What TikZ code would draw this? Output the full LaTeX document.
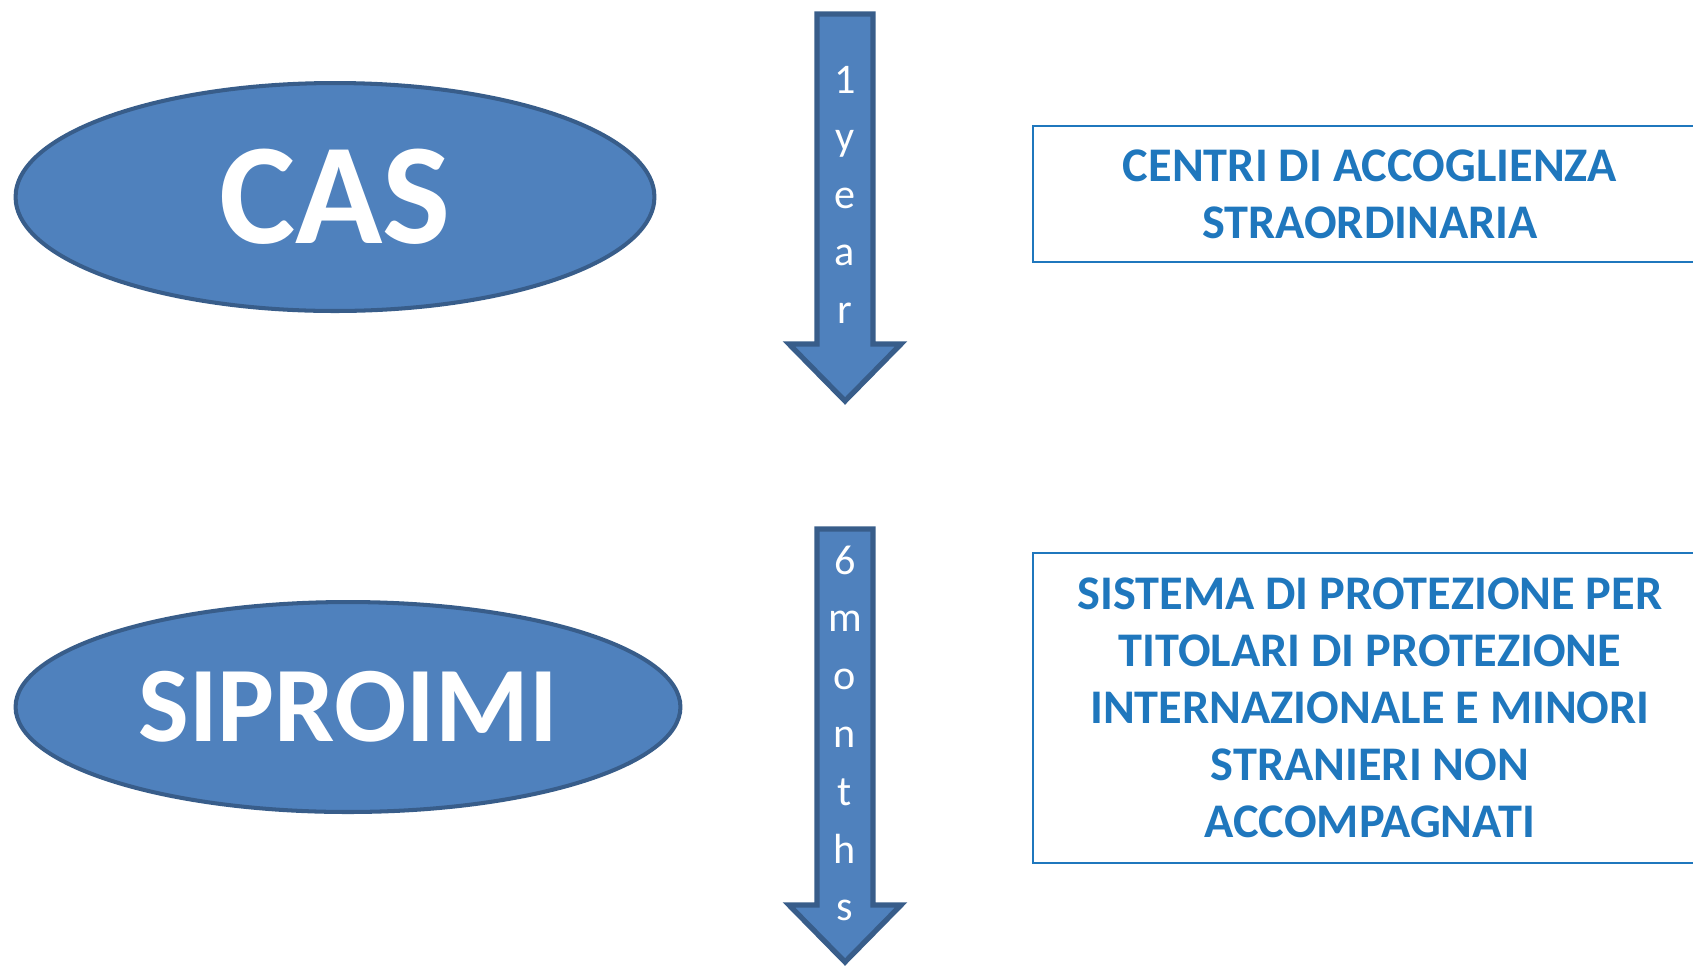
\documentclass[tikz,border=0pt]{standalone}
\usepackage{fontspec}
\setmainfont{Carlito}
\usetikzlibrary{shapes.geometric}

\definecolor{cellfill}{RGB}{79,129,189}
\definecolor{celledge}{RGB}{56,93,138}
\definecolor{boxblue}{RGB}{31,119,189}

\begin{document}
\begin{tikzpicture}[x=0.02cm, y=-0.02cm,
                    oval/.style = {shape = ellipse,
                                   fill = cellfill,
                                   draw = celledge,
                                   line width = 2.3pt,
                                   text = white,
                                   font = \bfseries,
                                   inner sep = 0pt},
                    infobox/.style = {shape = rectangle,
                                      draw = boxblue,
                                      line width = 1.1pt,
                                      text = boxblue,
                                      anchor = west,
                                      minimum width = 13.48cm,
                                      align = center,
                                      font = \fontsize{27.5}{32.5}\selectfont\bfseries},
                    armtext/.style = {text = white,
                                      anchor = base,
                                      inner sep = 0pt,
                                      font = \fontsize{24}{28}\selectfont},
                    timearrow/.style = {fill = cellfill,
                                        draw = celledge,
                                        line width = 3pt,
                                        line join = miter}]
		\useasboundingbox (0,0) rectangle (1693,965);
		% the two centres
		\node[oval, minimum width = 12.78cm, minimum height = 4.56cm,
		      font = \fontsize{82}{90}\selectfont\bfseries] (cas) at (335,197) {CAS};
		\node[oval, minimum width = 13.3cm, minimum height = 4.2cm,
		      font = \fontsize{61}{70}\selectfont\bfseries] (siproimi) at (348,707) {SIPROIMI};
		% time arrows
		\draw[timearrow] (817,14) -- (873,14) -- (873,344) -- (901,344)
		      -- (845,401) -- (789,344) -- (817,344) -- cycle;
		\draw[timearrow] (817,529) -- (873,529) -- (873,905) -- (901,905)
		      -- (845,962) -- (789,905) -- (817,905) -- cycle;
		\foreach \ch [count=\i] in {1,y,e,a,r}
			\node[armtext] (year\i) at (845,{93+57.5*(\i-1)}) {\ch};
		\foreach \ch [count=\i] in {6,m,o,n,t,h,s}
			\node[armtext] (month\i) at (845,{574+57.8*(\i-1)}) {\ch};
		% full names
		\node[infobox, minimum height = 2.72cm] (casname) at (1032,194)
		      {CENTRI DI ACCOGLIENZA\\STRAORDINARIA};
		\node[infobox, minimum height = 6.2cm] (siproiminame) at (1032,708)
		      {SISTEMA DI PROTEZIONE PER\\TITOLARI DI PROTEZIONE\\INTERNAZIONALE E MINORI\\STRANIERI NON\\ACCOMPAGNATI};
	\end{tikzpicture}
\end{document}
